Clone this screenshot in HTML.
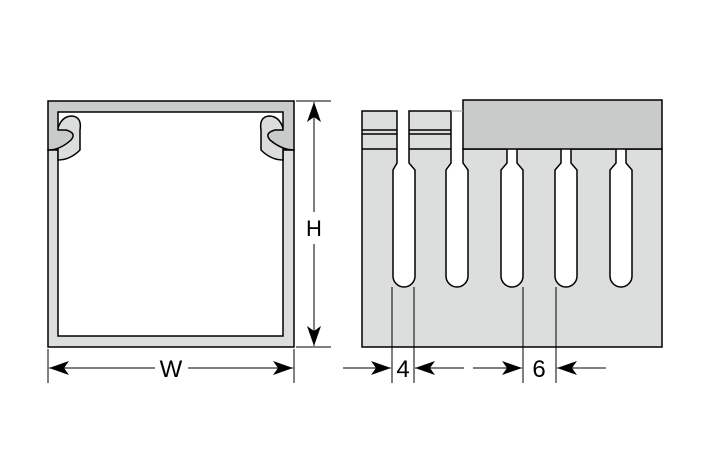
<!DOCTYPE html>
<html><head><style>html,body{margin:0;padding:0;background:#fff}svg{display:block}</style></head>
<body>
<svg width="709" height="472" viewBox="0 0 709 472" xmlns="http://www.w3.org/2000/svg" font-family="Liberation Sans, sans-serif">
<defs>
<marker id="a" viewBox="0 0 20 14" refX="20" refY="7" markerWidth="20" markerHeight="14" markerUnits="userSpaceOnUse" orient="auto-start-reverse"><path d="M0,0 L20,7 L0,14 L5,7 Z" fill="#000"/></marker>
</defs>
<path d="M48,150 L48,347 L294,347 L294,150 L283,150 L283,336 L58,336 L58,150 Z" fill="#dcdddd" stroke="#000" stroke-width="1.5"/>
<path d="M58,160 Q70,160 80,150 L80,130 Q82,117 72,116 Q62,116 58,128 Z" fill="#dcdddd" stroke="#000" stroke-width="1.5"/>
<path d="M283,160 Q271,160 261,150 L261,130 Q259,117 269,116 Q279,116 283,128 Z" fill="#dcdddd" stroke="#000" stroke-width="1.5"/>
<path d="M48,101 L294,101 L294,150 Q282,150 270,140 Q264,133 275,130 L283,130 L283,112 L58,112 L58,130 L66,130 Q77,133 71,140 Q60,150 48,150 Z" fill="#c9caca" stroke="#000" stroke-width="1.5"/>
<line x1="296" y1="101" x2="331" y2="101" stroke="#000"/>
<line x1="296" y1="347" x2="331" y2="347" stroke="#000"/>
<line x1="314" y1="102" x2="314" y2="212" stroke="#000" marker-start="url(#a)"/>
<line x1="314" y1="244" x2="314" y2="346" stroke="#000" marker-end="url(#a)"/>
<text x="314" y="236" font-size="22" text-anchor="middle">H</text>
<line x1="48" y1="349" x2="48" y2="383" stroke="#000"/>
<line x1="294" y1="349" x2="294" y2="383" stroke="#000"/>
<line x1="49" y1="368" x2="155" y2="368" stroke="#000" marker-start="url(#a)"/>
<line x1="188" y1="368" x2="293" y2="368" stroke="#000" marker-end="url(#a)"/>
<text x="171" y="377" font-size="24" text-anchor="middle">W</text>
<path d="M362,111 L397,111 L397,163 L393,170 L393,276 A11,11 0 0 0 415,276 L415,170 L409,163 L409,111 L451,111 L451,163 L446,170 L446,276 A11,11 0 0 0 468,276 L468,170 L463,163 L463,149 L507,149 L507,163 L501,170 L501,276 A11,11 0 0 0 523,276 L523,170 L517,163 L517,149 L561,149 L561,163 L555,170 L555,276 A11,11 0 0 0 577,276 L577,170 L571,163 L571,149 L616,149 L616,163 L610,170 L610,276 A11,11 0 0 0 632,276 L632,170 L626,163 L626,149 L662,149 L662,347 L362,347 Z" fill="#dcdddd" stroke="#000" stroke-width="1.5"/>
<rect x="463" y="100" width="199" height="49" fill="#c9caca" stroke="#000" stroke-width="1.5"/>
<line x1="451" y1="111" x2="463" y2="111" stroke="#999"/>
<g stroke="#000" stroke-width="1.5">
<line x1="362" y1="130" x2="397" y2="130"/><line x1="362" y1="134" x2="397" y2="134"/><line x1="362" y1="149" x2="397" y2="149"/>
<line x1="409" y1="130" x2="451" y2="130"/><line x1="409" y1="134" x2="451" y2="134"/><line x1="409" y1="149" x2="451" y2="149"/>
</g>
<g stroke="#000" stroke-width="1">
<line x1="392" y1="287" x2="392" y2="383"/><line x1="414" y1="287" x2="414" y2="383"/>
<line x1="523" y1="287" x2="523" y2="383"/><line x1="556" y1="287" x2="556" y2="383"/>
<line x1="343" y1="368" x2="391" y2="368" marker-end="url(#a)"/>
<line x1="464" y1="368" x2="415" y2="368" marker-end="url(#a)"/>
<line x1="473" y1="368" x2="522" y2="368" marker-end="url(#a)"/>
<line x1="606" y1="368" x2="557" y2="368" marker-end="url(#a)"/>
</g>
<text x="403" y="377" font-size="24" text-anchor="middle">4</text>
<text x="539" y="377" font-size="24" text-anchor="middle">6</text>
</svg>
</body></html>
